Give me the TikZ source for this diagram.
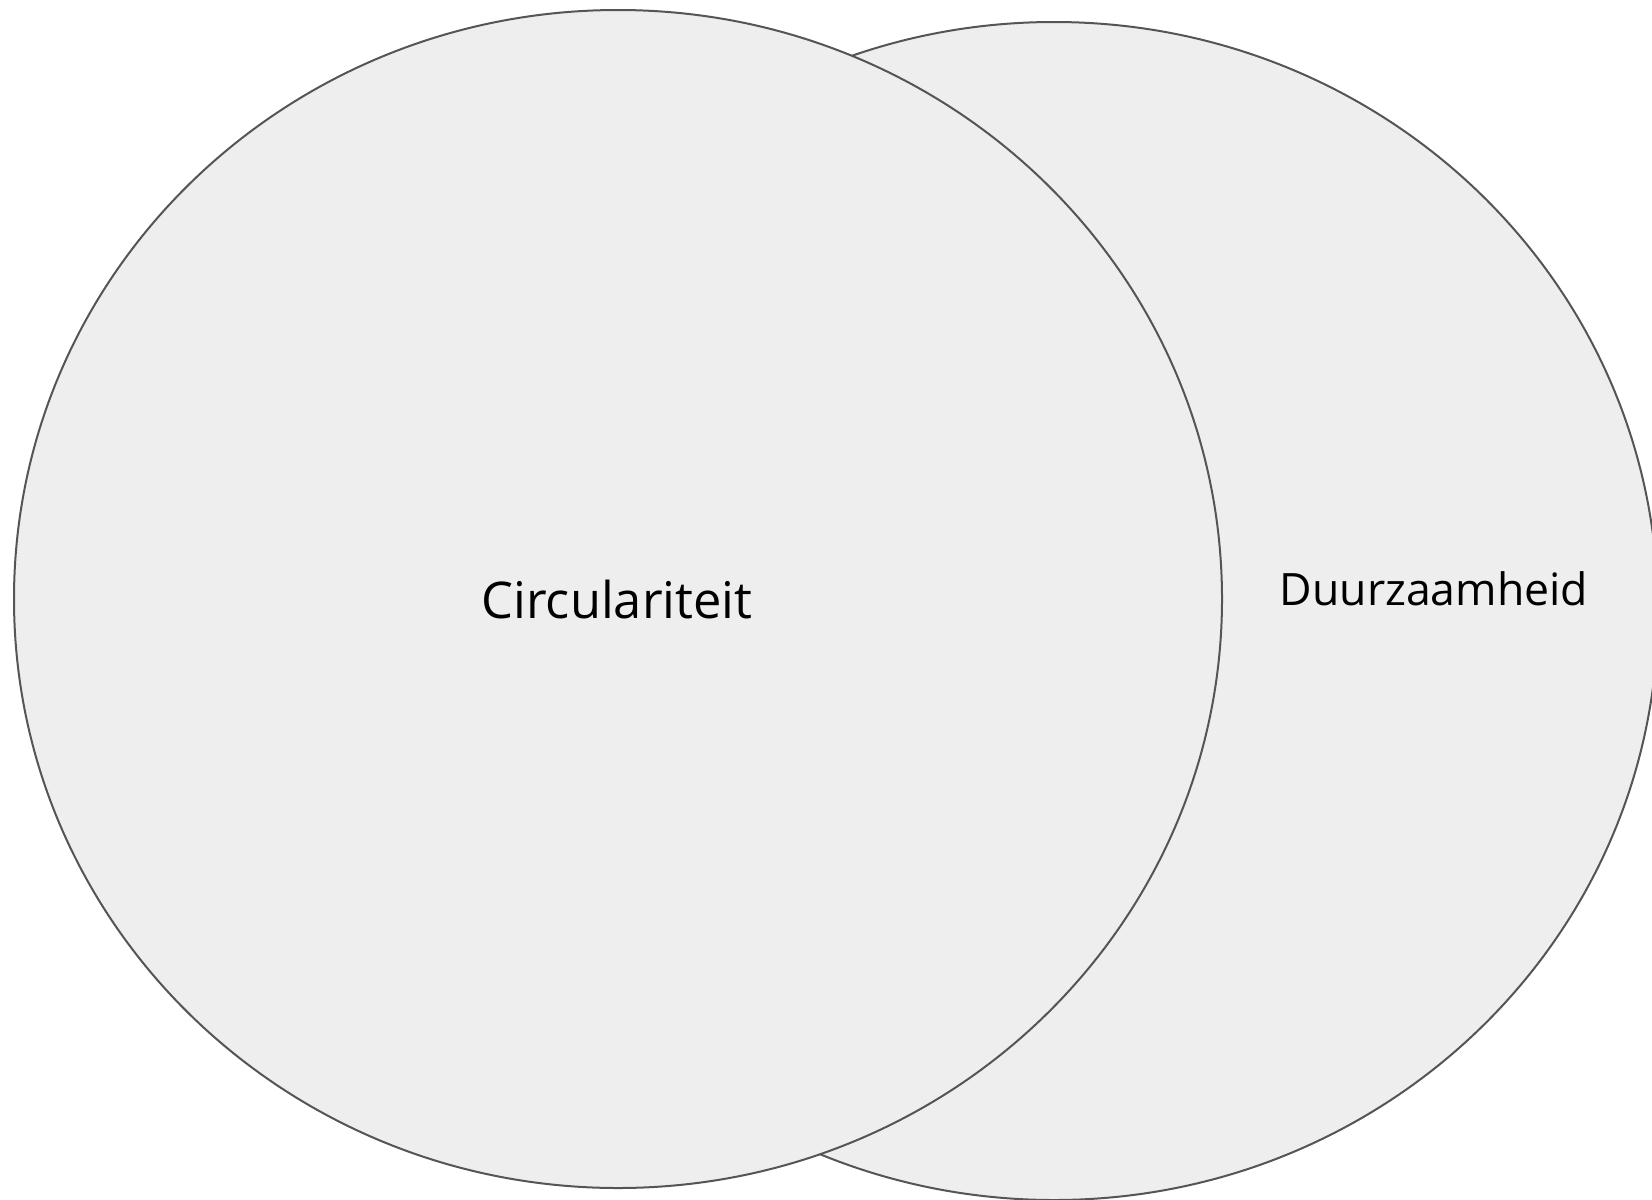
\documentclass[tikz,border=0pt]{standalone}
\usepackage{fontspec}
\setmainfont{Open Sans}
\usetikzlibrary{shapes.geometric}
\definecolor{vfill}{HTML}{EEEEEE}
\definecolor{vline}{HTML}{555555}
\tikzset{
  venn/.style={ellipse, draw=vline, fill=vfill, line width=1pt, inner sep=0pt,
    minimum width=604pt, minimum height=589pt},
  lbl/.style={inner sep=0pt, text=black}
}
\begin{document}
\begin{tikzpicture}[x=0.5pt,y=-0.5pt]
\useasboundingbox (0,0) rectangle (1652,1199);
\node[venn] (dur) at (1054,611) {};
\node[venn] (circ) at (618,599) {};
\node[lbl, font=\fontsize{25.3}{30}\selectfont] (tc) at (617,600) {Circulariteit};
\node[lbl, font=\fontsize{22.3}{26}\selectfont] (td) at (1434,589) {Duurzaamheid};
\end{tikzpicture}
\end{document}
